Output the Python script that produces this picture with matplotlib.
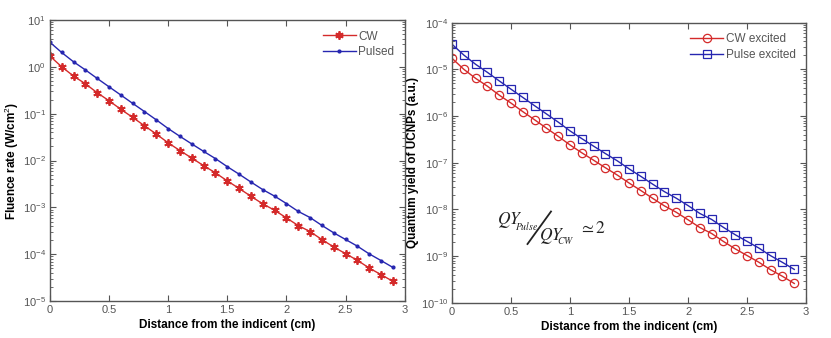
import matplotlib
matplotlib.use("Agg")
import matplotlib.pyplot as plt
from matplotlib.ticker import LogLocator, FormatStrFormatter, NullFormatter
from matplotlib.lines import Line2D

plt.rcParams['font.family'] = ['Liberation Sans', 'DejaVu Sans']
plt.rcParams['mathtext.fontset'] = 'custom'
plt.rcParams['mathtext.rm'] = 'Liberation Sans'

# distance from the incident (cm)
dist = [0.0, 0.1, 0.2, 0.3, 0.4, 0.5, 0.6, 0.7, 0.8, 0.9,
        1.0, 1.1, 1.2, 1.3, 1.4, 1.5, 1.6, 1.7, 1.8, 1.9,
        2.0, 2.1, 2.2, 2.3, 2.4, 2.5, 2.6, 2.7, 2.8, 2.9]

# fluence rate (W/cm^2)
cw = [1.70, 1.00, 0.635, 0.435, 0.280, 0.189, 0.124, 0.0834, 0.0552, 0.0367,
      0.0239, 0.0163, 0.0113, 0.00778, 0.00546, 0.00368, 0.00254, 0.00173, 0.00119, 0.000871,
      0.000597, 0.000410, 0.000305, 0.000206, 0.000143, 0.000103, 7.44e-5, 5.09e-5, 3.68e-5, 2.65e-5]
pulsed = [3.35, 2.02, 1.28, 0.86, 0.565, 0.375, 0.25, 0.166, 0.111, 0.0738,
          0.0482, 0.0328, 0.0226, 0.0157, 0.0110, 0.00740, 0.00512, 0.00348, 0.00240, 0.00174,
          0.00121, 0.000822, 0.000608, 0.000413, 0.000287, 0.000207, 0.000149, 0.000102, 7.35e-5, 5.25e-5]

# quantum yield (a.u.)
qy_cw = [1.72e-5, 1.00e-5, 6.4e-6, 4.35e-6, 2.8e-6, 1.89e-6, 1.24e-6, 8.3e-7, 5.5e-7, 3.67e-7,
         2.4e-7, 1.63e-7, 1.13e-7, 7.8e-8, 5.45e-8, 3.68e-8, 2.54e-8, 1.73e-8, 1.19e-8, 8.7e-9,
         6.0e-9, 4.1e-9, 3.05e-9, 2.06e-9, 1.43e-9, 1.03e-9, 7.4e-10, 5.1e-10, 3.7e-10, 2.6e-10]
qy_pulse = [3.44e-5, 2.02e-5, 1.28e-5, 8.6e-6, 5.65e-6, 3.75e-6, 2.5e-6, 1.66e-6, 1.11e-6, 7.4e-7,
            4.8e-7, 3.28e-7, 2.26e-7, 1.57e-7, 1.10e-7, 7.4e-8, 5.1e-8, 3.48e-8, 2.4e-8, 1.74e-8,
            1.21e-8, 8.2e-9, 6.1e-9, 4.13e-9, 2.87e-9, 2.07e-9, 1.49e-9, 1.02e-9, 7.35e-10, 5.2e-10]

red = "#d42a2a"
blue = "#2626b0"
gray = "#555555"

fig = plt.figure(figsize=(8.31, 3.38), dpi=100)
ax1 = fig.add_axes([0.060, 0.109, 0.427, 0.832])
ax2 = fig.add_axes([0.544, 0.104, 0.426, 0.829])


def style(ax, lo, hi):
    ax.set_yscale("log")
    ax.set_xlim(0, 3)
    ax.set_ylim(lo, hi)
    ax.set_xticks([0, 0.5, 1, 1.5, 2, 2.5, 3])
    ax.xaxis.set_major_formatter(FormatStrFormatter('%g'))
    ax.yaxis.set_major_locator(LogLocator(base=10, numticks=20))
    ax.yaxis.set_minor_locator(LogLocator(base=10, subs=range(2, 10), numticks=20))
    ax.yaxis.set_minor_formatter(NullFormatter())
    ax.tick_params(which='both', direction='in', top=True, right=True,
                   colors=gray, labelcolor=gray, labelsize=8)
    ax.tick_params(which='major', length=4, pad=3)
    ax.tick_params(which='minor', length=2)
    for s in ax.spines.values():
        s.set_color(gray)
        s.set_linewidth(1.0)
    ax.set_xlabel("Distance from the indicent (cm)", fontsize=8.5,
                  fontweight='bold', labelpad=3)


ax1.plot(dist, cw, color=red, marker=(6, 2, 0), markersize=6, linewidth=1.0,
         markeredgewidth=1.3, label="CW")
ax1.plot(dist, pulsed, color=blue, marker='.', markersize=4, linewidth=1.0,
         label="Pulsed")
style(ax1, 1e-5, 1e1)
ax1.set_ylabel("Fluence rate (W/cm$^2$)", fontsize=8.5, fontweight='bold', labelpad=1)
ax1.legend(loc='upper right', frameon=False, fontsize=8.5, handlelength=2.8,
           handletextpad=0.2, labelspacing=0.3, borderaxespad=0.5,
           labelcolor=gray)

ax2.plot(dist, qy_cw, color=red, marker='o', markersize=6, linewidth=1.0,
         markerfacecolor='none', markeredgewidth=0.9, label="CW excited")
ax2.plot(dist, qy_pulse, color=blue, marker='s', markersize=6, linewidth=1.0,
         markerfacecolor='none', markeredgewidth=0.9, label="Pulse excited")
style(ax2, 1e-10, 1e-4)
ax2.set_ylabel("Quantum yield of UCNPs (a.u.)", fontsize=8.5, fontweight='bold', labelpad=1)
ax2.legend(loc='upper right', frameon=False, fontsize=8.5, handlelength=2.8,
           handletextpad=0.2, labelspacing=0.3, borderaxespad=0.5,
           labelcolor=gray)

# ratio annotation
W, H = 831.0, 338.0
ink = '#222222'
fig.text(497 / W, 1 - 220 / H, r'$\mathit{QY}$', fontsize=12.5,
         va='center', ha='left', math_fontfamily='stix', color=ink)
fig.text(515 / W, 1 - 226 / H, r'$\mathit{Pulse}$', fontsize=7,
         va='center', ha='left', math_fontfamily='stix', color=ink)
fig.add_artist(Line2D([527.5 / W, 551 / W], [1 - 244 / H, 1 - 211.5 / H],
                      color=ink, linewidth=1.3))
fig.text(539 / W, 1 - 236 / H, r'$\mathit{QY}$', fontsize=12.5,
         va='center', ha='left', math_fontfamily='stix', color=ink)
fig.text(557 / W, 1 - 241 / H, r'$\mathit{CW}$', fontsize=7,
         va='center', ha='left', math_fontfamily='stix', color=ink)
fig.text(579 / W, 1 - 228 / H, r'$\simeq 2$', fontsize=12.5, va='center', ha='left',
         math_fontfamily='stix', color=ink)

fig.savefig("out.png", dpi=100)
